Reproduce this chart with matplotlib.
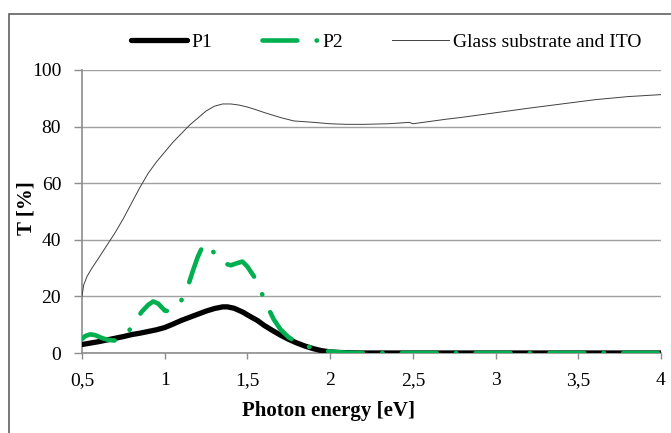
import matplotlib
matplotlib.use("Agg")
import matplotlib.pyplot as plt
from matplotlib.patches import Rectangle
import numpy as np

# Data
glass_x = [0.50, 0.51, 0.53, 0.56, 0.60, 0.65, 0.70, 0.75, 0.80, 0.85, 0.90, 0.95, 1.00, 1.05, 1.10,
           1.15, 1.20, 1.25, 1.30, 1.35, 1.40, 1.45, 1.50, 1.55, 1.60, 1.70, 1.78, 1.90, 2.00,
           2.10, 2.20, 2.35, 2.48, 2.50, 2.60, 2.70, 2.80, 3.00, 3.20, 3.40, 3.60, 3.80, 4.00]
glass_y = [20.0, 24.0, 27.0, 30.0, 33.5, 38.0, 42.5, 47.5, 53.0, 58.5, 63.5, 67.5, 71.0, 74.5, 77.5,
           80.5, 83.0, 85.5, 87.2, 88.0, 88.0, 87.6, 86.9, 86.0, 85.0, 83.2, 82.0, 81.5, 81.0,
           80.8, 80.8, 81.0, 81.5, 81.0, 81.8, 82.6, 83.3, 84.9, 86.5, 88.0, 89.5, 90.6, 91.3]

p1_x = [0.50, 0.55, 0.60, 0.65, 0.70, 0.75, 0.80, 0.85, 0.90, 0.95, 1.00, 1.05, 1.10, 1.15, 1.20,
        1.25, 1.30, 1.35, 1.38, 1.42, 1.47, 1.52, 1.56, 1.60, 1.65, 1.70, 1.75, 1.80, 1.85,
        1.90, 1.95, 2.00, 2.05, 2.10, 2.20, 2.50, 3.00, 3.50, 4.00]
p1_y = [3.0, 3.5, 4.0, 4.6, 5.2, 5.8, 6.5, 7.0, 7.6, 8.2, 9.0, 10.2, 11.5, 12.6, 13.7,
        14.8, 15.7, 16.3, 16.3, 15.8, 14.5, 12.8, 11.5, 9.8, 8.0, 6.3, 4.8, 3.5, 2.4,
        1.5, 0.8, 0.4, 0.2, 0.1, 0.0, 0.0, 0.0, 0.0, 0.0]

p2_x = [0.50, 0.52, 0.55, 0.58, 0.62, 0.66, 0.70, 0.74, 0.78, 0.82, 0.86, 0.90, 0.93, 0.96,
        1.00, 1.03, 1.06, 1.10, 1.14, 1.17, 1.20, 1.23, 1.25, 1.28, 1.31, 1.35, 1.40, 1.44,
        1.47, 1.50, 1.54, 1.58, 1.62, 1.66, 1.70, 1.75, 1.80, 1.85, 1.90, 1.95, 2.00, 2.05,
        2.10, 2.20, 2.50, 3.00, 3.50, 4.00]
p2_y = [5.0, 6.0, 6.6, 6.3, 5.3, 4.6, 4.4, 5.0, 7.5, 11.0, 14.5, 17.0, 18.2, 17.5,
        15.0, 14.7, 15.8, 18.5, 23.5, 29.0, 34.0, 37.8, 38.7, 37.2, 34.0, 31.8, 31.0, 31.8,
        32.3, 30.5, 27.0, 22.0, 16.5, 11.8, 8.3, 5.5, 3.8, 2.6, 1.6, 0.9, 0.5, 0.3,
        0.1, 0.0, 0.0, 0.0, 0.0, 0.0]

x_ticks = [0.5, 1, 1.5, 2, 2.5, 3, 3.5, 4]
x_labels = ["0,5", "1", "1,5", "2", "2,5", "3", "3,5", "4"]
y_ticks = [0, 20, 40, 60, 80, 100]

plt.rcParams['font.family'] = ['Liberation Serif', 'DejaVu Serif']

W, H = 671, 433
fig = plt.figure(figsize=(W / 100, H / 100), dpi=100)
ax = fig.add_axes([82 / W, (H - 353) / H, (661 - 82) / W, (353 - 70) / H])

green = '#00b050'
ax.plot(glass_x, glass_y, color='#404040', lw=0.7, label='Glass substrate and ITO', zorder=3)
ax.plot(p1_x, p1_y, color='black', lw=3.8, label='P1', zorder=4, solid_capstyle='round')
ax.plot(p2_x, p2_y, color=green, lw=3.3, label='P2', zorder=5,
        dashes=(7.6, 4.2, 0.1, 4.2), dash_capstyle='round')

ax.set_xlim(0.5, 4)
ax.set_ylim(0, 100)
ax.set_xticks(x_ticks)
ax.set_xticklabels(x_labels)
ax.set_yticks(y_ticks)
ax.yaxis.grid(True, color='#a0a0a0', lw=1.0, zorder=0)
ax.set_axisbelow(True)

for s in ['top', 'right']:
    ax.spines[s].set_visible(False)
for s in ['left', 'bottom']:
    ax.spines[s].set_color('#8c8c8c')
    ax.spines[s].set_linewidth(1.2)
ax.tick_params(axis='y', direction='out', length=6, color='#8c8c8c', width=1.0,
               labelsize=14, pad=9)
ax.tick_params(axis='x', direction='out', length=4, color='#8c8c8c', width=1.0,
               labelsize=14, pad=10)

ax.set_xlabel('Photon energy [eV]', fontsize=15, fontweight='bold')
ax.set_ylabel('T [%]', fontsize=15, fontweight='bold')
ax.xaxis.set_label_coords((329 - 82) / 579, (353 - 401) / 283)
ax.yaxis.set_label_coords((36 - 82) / 579, (353 - 208) / 283)

handles, labels = ax.get_legend_handles_labels()
order = [1, 2, 0]
leg = fig.legend([handles[i] for i in order], [labels[i] for i in order],
                 loc='center', bbox_to_anchor=(386 / W, 1 - 42 / H), ncol=3,
                 frameon=False, fontsize=14, handlelength=2.9, columnspacing=2.55,
                 handletextpad=0.2)

# outer chart frame
fig.patches.append(Rectangle((8.5 / W, -0.05), 1.0, 1 - 13.5 / H + 0.05,
                             transform=fig.transFigure, fill=False,
                             edgecolor='#606060', lw=1.2))

fig.savefig('out.png', dpi=100)
